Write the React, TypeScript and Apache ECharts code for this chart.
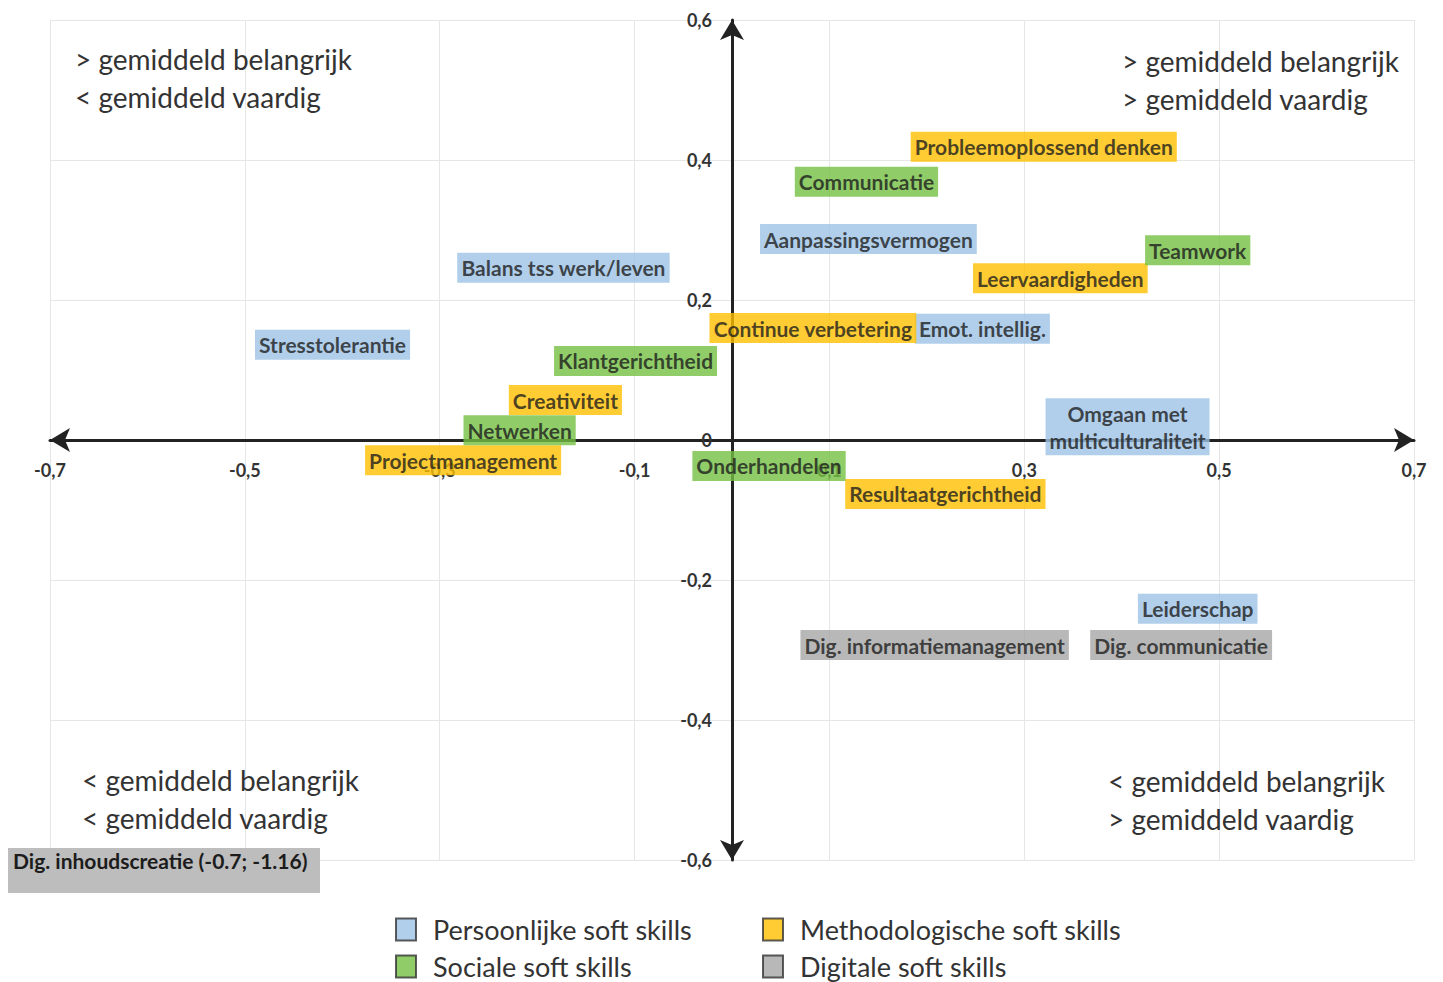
import { useEffect, useRef } from 'react';
import * as echarts from 'echarts';

// Skill groups (legend entries)
const groups = [
  'Persoonlijke soft skills',
  'Methodologische soft skills',
  'Sociale soft skills',
  'Digitale soft skills',
];

// x = gemiddeld vaardig (deviation), y = gemiddeld belangrijk (deviation)
const persoonlijkeNames = [
  'Aanpassingsvermogen',
  'Balans tss werk/leven',
  'Stresstolerantie',
  'Emot. intellig.',
  'Omgaan met\nmulticulturaliteit',
  'Leiderschap',
];
const persoonlijkeX = [0.14, -0.173, -0.41, 0.257, 0.406, 0.478];
const persoonlijkeY = [0.287, 0.246, 0.136, 0.159, 0.019, -0.241];

const methodologischNames = [
  'Probleemoplossend denken',
  'Leervaardigheden',
  'Continue verbetering',
  'Creativiteit',
  'Projectmanagement',
  'Resultaatgerichtheid',
];
const methodologischX = [0.32, 0.337, 0.083, -0.171, -0.276, 0.219];
const methodologischY = [0.419, 0.231, 0.16, 0.057, -0.029, -0.077];

const socialeNames = ['Communicatie', 'Teamwork', 'Klantgerichtheid', 'Netwerken', 'Onderhandelen'];
const socialeX = [0.138, 0.478, -0.099, -0.218, 0.038];
const socialeY = [0.369, 0.271, 0.113, 0.014, -0.037];

const digitaleNames = ['Dig. informatiemanagement', 'Dig. communicatie'];
const digitaleX = [0.208, 0.461];
const digitaleY = [-0.293, -0.293];

// Point that falls outside the plotted range, noted separately
const outOfRangeName = 'Dig. inhoudscreatie';
const outOfRangeX = -0.7;
const outOfRangeY = -1.16;

const xMin = -0.7;
const xMax = 0.7;
const yMin = -0.6;
const yMax = 0.6;

const quadrantTexts = [
  '> gemiddeld belangrijk\n< gemiddeld vaardig',
  '> gemiddeld belangrijk\n> gemiddeld vaardig',
  '< gemiddeld belangrijk\n< gemiddeld vaardig',
  '< gemiddeld belangrijk\n> gemiddeld vaardig',
];

const COLORS = ['#9DC3E6', '#FFC000', '#74C044', '#A6A6A6'];
const FONT = 'Lato, "Open Sans", sans-serif';

const W = 1443;
const H = 982;
const GRID = { left: 50, right: 29, top: 20, bottom: 122 };

const toComma = (v: number, digits: number) => {
  const r = Math.round(v * 10 ** digits) / 10 ** digits;
  if (r === 0) return '0';
  return r.toFixed(digits).replace('.', ',');
};

const buildData = (names: string[], xs: number[], ys: number[]) =>
  names.map((n, i) => ({ name: n, value: [xs[i], ys[i]] }));

export default function App() {
  const ref = useRef<HTMLDivElement>(null);

  useEffect(() => {
    if (!ref.current) return;
    const chart = echarts.init(ref.current, null, { renderer: 'svg' });

    const seriesData = [
      buildData(persoonlijkeNames, persoonlijkeX, persoonlijkeY),
      buildData(methodologischNames, methodologischX, methodologischY),
      buildData(socialeNames, socialeX, socialeY),
      buildData(digitaleNames, digitaleX, digitaleY),
    ];

    // Axes cross at the origin: shift them from the grid edges to zero
    const plotW = W - GRID.left - GRID.right;
    const plotH = H - GRID.top - GRID.bottom;
    const xAxisOffset = -plotH * ((0 - yMin) / (yMax - yMin));
    const yAxisOffset = -plotW * ((0 - xMin) / (xMax - xMin));

    const quadrantPos = [
      { left: 75, top: 40 },
      { left: 1122, top: 42 },
      { left: 82, top: 761 },
      { left: 1108, top: 762 },
    ];

    // 2 x 2 legend layout
    const legendPos = [
      { left: 390, top: 911 },
      { left: 757, top: 911 },
      { left: 390, top: 948 },
      { left: 757, top: 948 },
    ];

    const axisLineStyle = {
      show: true,
      onZero: false,
      symbol: ['arrow', 'arrow'],
      symbolSize: [18, 20],
      lineStyle: { color: '#222', width: 3 },
    };

    const axisLabelStyle = {
      fontFamily: FONT,
      fontSize: 18,
      fontWeight: 'bold',
      color: '#333',
    };

    chart.setOption({
      animation: false,
      backgroundColor: '#ffffff',
      grid: { ...GRID, containLabel: false },
      xAxis: {
        type: 'value',
        position: 'bottom',
        offset: xAxisOffset,
        min: xMin,
        max: xMax,
        interval: 0.1,
        axisLine: axisLineStyle,
        axisTick: { show: false },
        axisLabel: {
          ...axisLabelStyle,
          margin: 21,
          formatter: (v: number) => {
            const k = Math.round(v * 10);
            return Math.abs(k) % 2 === 1 ? toComma(v, 1) : '';
          },
        },
        splitLine: {
          show: true,
          lineStyle: { color: ['#e6e6e6', 'rgba(0,0,0,0)'], width: 1 },
        },
      },
      yAxis: {
        type: 'value',
        position: 'left',
        offset: yAxisOffset,
        min: yMin,
        max: yMax,
        interval: 0.2,
        axisLine: axisLineStyle,
        axisTick: { show: false },
        axisLabel: {
          ...axisLabelStyle,
          margin: 20,
          formatter: (v: number) => toComma(v, 1),
        },
        splitLine: { show: true, lineStyle: { color: '#e6e6e6', width: 1 } },
      },
      legend: groups.map((g, i) => ({
        left: legendPos[i].left,
        top: legendPos[i].top,
        itemWidth: 20,
        itemHeight: 22,
        icon: 'rect',
        selectedMode: false,
        itemStyle: { borderColor: '#333', borderWidth: 2 },
        textStyle: {
          fontFamily: FONT,
          fontSize: 27,
          color: '#333',
          padding: [0, 0, 0, 12],
          lineHeight: 22,
        },
        data: [g],
      })),
      series: groups.map((g, gi) => ({
        name: g,
        type: 'scatter',
        symbolSize: 1,
        itemStyle: { color: COLORS[gi] },
        data: seriesData[gi],
        label: {
          show: true,
          position: 'inside',
          formatter: '{b}',
          fontFamily: FONT,
          fontWeight: 'bold',
          fontSize: 21,
          lineHeight: 27,
          color: '#1c1c1c',
          backgroundColor: COLORS[gi],
          padding: [2, 4, 1, 4],
        },
        emphasis: { disabled: true },
      })),
      graphic: [
        ...quadrantTexts.map((t, i) => ({
          type: 'text',
          left: quadrantPos[i].left,
          top: quadrantPos[i].top,
          silent: true,
          z: 100,
          style: {
            text: t,
            fontFamily: FONT,
            fontSize: 28,
            lineHeight: 38,
            fill: '#333',
          },
        })),
        {
          type: 'rect',
          left: 8,
          top: 848,
          silent: true,
          z: 100,
          shape: { width: 312, height: 45 },
          style: { fill: '#BDBDBD' },
        },
        {
          type: 'text',
          left: 13,
          top: 850,
          silent: true,
          z: 101,
          style: {
            text: `${outOfRangeName} (${outOfRangeX}; ${outOfRangeY})`,
            fontFamily: FONT,
            fontSize: 21,
            fontWeight: 'bold',
            fill: '#1c1c1c',
          },
        },
      ],
    });

    return () => chart.dispose();
  }, []);

  return (
    <div
      ref={ref}
      style={{ position: 'fixed', left: 0, top: 0, width: W, height: H }}
    />
  );
}
